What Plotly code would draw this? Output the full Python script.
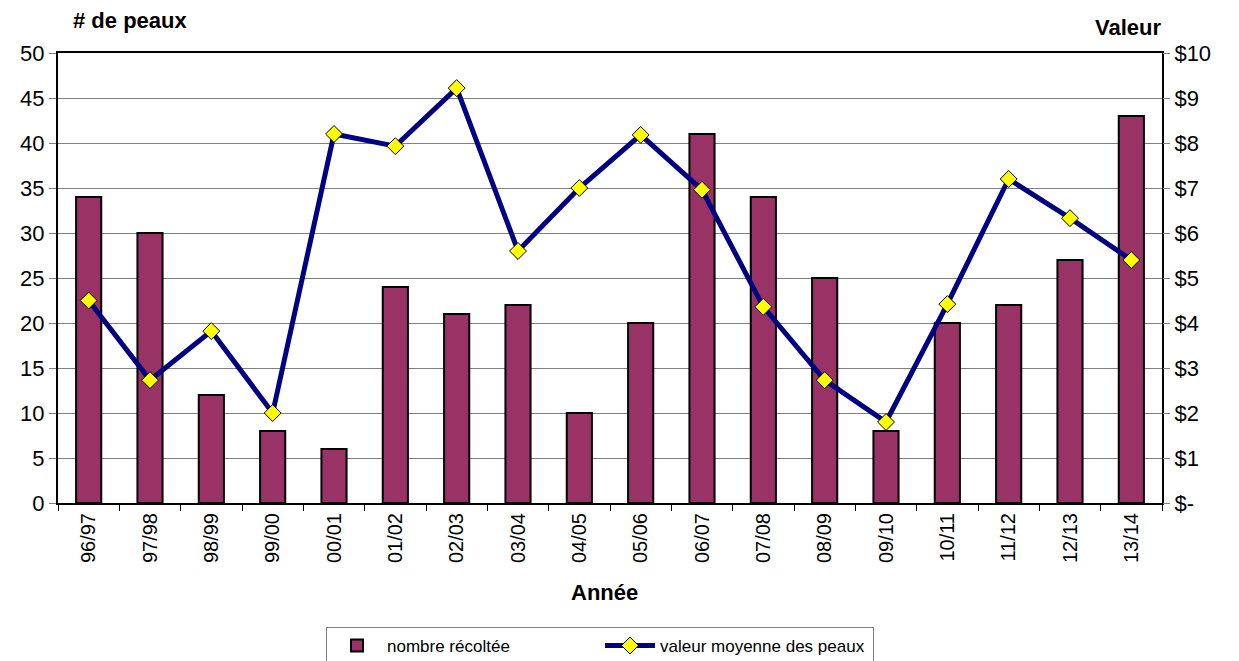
import plotly.graph_objects as go

annees = ["96/97","97/98","98/99","99/00","00/01","01/02","02/03","03/04","04/05","05/06",
          "06/07","07/08","08/09","09/10","10/11","11/12","12/13","13/14"]
nombre = [34, 30, 12, 8, 6, 24, 21, 22, 10, 20, 41, 34, 25, 8, 20, 22, 27, 43]
valeur = [4.50, 2.73, 3.82, 2.00, 8.20, 7.93, 9.22, 5.60, 7.00, 8.18, 6.96, 4.36, 2.73, 1.80, 4.42, 7.20, 6.33, 5.40]

left_ticks = [0, 5, 10, 15, 20, 25, 30, 35, 40, 45, 50]
right_ticks = [0, 1, 2, 3, 4, 5, 6, 7, 8, 9, 10]
right_labels = ["$-", "$1", "$2", "$3", "$4", "$5", "$6", "$7", "$8", "$9", "$10"]

FONT = "Liberation Sans, Arial, sans-serif"

# page body has an 8px default margin; figure coordinates are page coords - 8
OFF = 8
W, H = 1239 - OFF, 661 - OFF
L, T = 58 - OFF, 53 - OFF
R = W - (1162 - OFF)
B = H - (503 - OFF)
PW, PH = W - L - R, H - T - B


def px(xpage):
    return (xpage - OFF - L) / PW


def py(ypage):
    return 1 - (ypage - OFF - T) / PH


fig = go.Figure()
fig.add_trace(go.Bar(
    x=annees, y=nombre, name="nombre récoltée",
    marker=dict(color="#993366", line=dict(color="black", width=2)),
    width=0.41,
))
fig.add_trace(go.Scatter(
    x=annees, y=valeur, name="valeur moyenne des peaux", yaxis="y2",
    mode="lines+markers",
    line=dict(color="#000080", width=5),
    marker=dict(symbol="diamond", size=13, color="#FFFF00", line=dict(color="black", width=1)),
))

fig.update_layout(
    width=W, height=H,
    margin=dict(l=L, r=R, t=T, b=B, autoexpand=False),
    plot_bgcolor="white", paper_bgcolor="white",
    font=dict(family=FONT, color="black"),
    showlegend=True,
    xaxis=dict(
        type="category", range=[-0.5, len(annees) - 0.5], automargin=False,
        tickangle=-90,
        tickfont=dict(size=20),
        ticks="outside", tickson="boundaries", ticklen=6, tickcolor="black", tickwidth=1,
        showline=True, linecolor="black", linewidth=2, mirror=True,
        showgrid=False,
    ),
    yaxis=dict(
        range=[0, 50], tickvals=left_ticks, automargin=False,
        tickfont=dict(size=22),
        ticks="outside", ticklen=7, tickcolor="#808080",
        showline=True, linecolor="black", linewidth=2, mirror=True,
        showgrid=True, gridcolor="#808080", gridwidth=1,
        zeroline=False,
    ),
    yaxis2=dict(
        range=[0, 10], tickvals=right_ticks, ticktext=right_labels, automargin=False,
        overlaying="y", side="right",
        tickfont=dict(size=22),
        ticks="outside", ticklen=7, tickcolor="#808080",
        showgrid=False, zeroline=False, showline=False,
    ),
    legend=dict(
        orientation="h", x=px(600), xanchor="center",
        y=py(627), yanchor="top",
        bordercolor="#808080", borderwidth=1,
        font=dict(size=17),
        itemwidth=50,
        entrywidth=208,
    ),
)
fig.add_annotation(text="<b># de peaux</b>", xref="paper", yref="paper",
                   x=px(71), y=py(21), xanchor="left", yanchor="middle",
                   showarrow=False, font=dict(size=22))
fig.add_annotation(text="<b>Valeur</b>", xref="paper", yref="paper",
                   x=px(1163), y=py(27), xanchor="right", yanchor="middle",
                   showarrow=False, font=dict(size=22))
fig.add_annotation(text="<b>Année</b>", xref="paper", yref="paper",
                   x=px(604), y=py(592), xanchor="center", yanchor="middle",
                   showarrow=False, font=dict(size=22))

fig.write_html("out.html")
